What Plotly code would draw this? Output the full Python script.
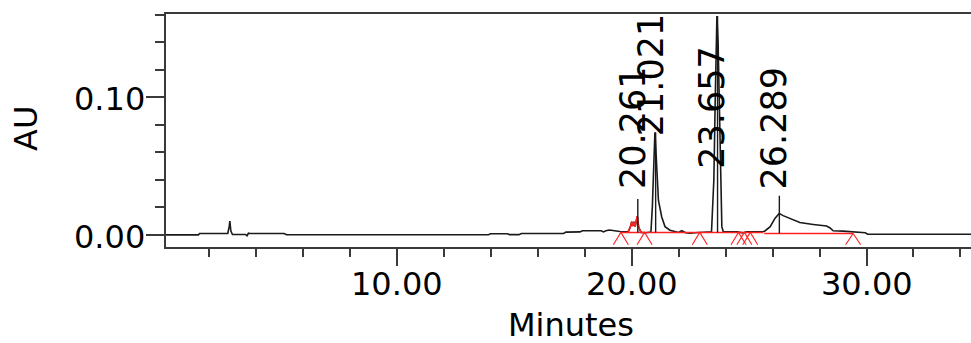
import plotly.graph_objects as go

# ---- chromatogram trace (minutes, AU) ----
time_min = [0.17, 1.55, 1.6, 2.8, 2.86, 2.89, 2.93, 3.0, 3.55, 3.62, 3.68, 3.75, 5.2, 5.3,
            13.9, 14.0, 14.7, 14.8, 15.2, 15.3, 17.1, 17.2, 17.8, 17.9, 18.7, 18.8, 18.9,
            19.05, 19.5, 19.85, 19.95, 20.0, 20.05, 20.1, 20.15, 20.2, 20.24, 20.3, 20.4,
            20.6, 20.82, 20.88, 20.94, 20.99, 21.03, 21.06, 21.1, 21.14, 21.28, 21.42,
            21.63, 22.0, 22.13, 22.3, 22.48, 22.7, 23.4, 23.46, 23.5, 23.56, 23.63, 23.68,
            23.74, 23.8, 23.84, 23.9, 24.5, 24.74, 24.9, 25.65, 25.9, 26.1, 26.28, 26.45,
            26.74, 27.16, 27.73, 28.3, 28.45, 28.58, 29.0, 29.43, 29.95, 30.05, 34.45]
au = [0.0000, 0.0000, 0.0010, 0.0010, 0.0060, 0.0100, 0.0030, 0.0003, 0.0003, -0.0006,
      0.0012, 0.0010, 0.0010, 0.0001, 0.0001, 0.0008, 0.0008, 0.0002, 0.0002, 0.0010,
      0.0010, 0.0020, 0.0022, 0.0030, 0.0030, 0.0022, 0.0030, 0.0035, 0.0025, 0.0022,
      0.0060, 0.0095, 0.0065, 0.0095, 0.0060, 0.0110, 0.0135, 0.0055, 0.0018, 0.0015,
      0.0020, 0.0200, 0.0550, 0.0745, 0.0620, 0.0540, 0.0350, 0.0250, 0.0130, 0.0060,
      0.0034, 0.0018, 0.0030, 0.0016, 0.0012, 0.0016, 0.0022, 0.0200, 0.0400, 0.1000,
      0.1590, 0.1400, 0.0900, 0.0300, 0.0060, 0.0024, 0.0022, 0.0015, 0.0022, 0.0025,
      0.0060, 0.0120, 0.0156, 0.0140, 0.0120, 0.0090, 0.0076, 0.0064, 0.0050, 0.0030,
      0.0027, 0.0020, 0.0015, 0.0005, 0.0005]

# integrated (red) part of the trace around the first small peak
red_segment_start = 19.85
red_segment_end = 20.4

# ---- peaks ----
peak_rt = [20.261, 21.021, 23.657, 26.289]
peak_labels = ["20.261", "21.021", "23.657", "26.289"]
peak_marker_top = [0.026, 0.0745, 0.159, 0.0285]
peak_marker_base = [0.0018, 0.0018, 0.0018, 0.0010]
label_bottom = [0.0318, 0.0700, 0.0463, 0.0318]

# ---- integration baselines and event marks ----
base_start = [19.54, 25.65]
base_end = [25.60, 29.43]
base_level = [0.0018, 0.0010]
event_marks = [19.54, 20.55, 22.9, 24.55, 24.8, 25.05, 29.43]
event_level = [0.0018, 0.0018, 0.0018, 0.0018, 0.0018, 0.0018, 0.0010]

x_ticks = [10, 20, 30]
x_tick_labels = ["10.00", "20.00", "30.00"]
y_ticks = [0.0, 0.10]
y_tick_labels = ["0.00", "0.10"]

FONT = "DejaVu Sans"
AXIS = "#3a3a3a"
W, H = 971, 343
ML, MR, MT, MB = 166, 0, 14, 96
PW, PH = W - ML - MR, H - MT - MB

fig = go.Figure()

fig.add_trace(go.Scatter(x=time_min, y=au, mode="lines",
                         line=dict(color="#1a1a1a", width=1.6), hoverinfo="skip"))

rx = [t for t in time_min if red_segment_start <= t <= red_segment_end]
ry = [v for t, v in zip(time_min, au) if red_segment_start <= t <= red_segment_end]
fig.add_trace(go.Scatter(x=rx, y=ry, mode="lines",
                         line=dict(color="#ff2020", width=1.5), hoverinfo="skip"))

# integration baselines
bx, by = [], []
for s, e, l in zip(base_start, base_end, base_level):
    bx += [s, e, None]
    by += [l, l, None]
fig.add_trace(go.Scatter(x=bx, y=by, mode="lines",
                         line=dict(color="#ff2020", width=1.5), hoverinfo="skip"))

# event marks (^)
ex, ey = [], []
half = 0.32
leg = -0.0072
for t, l in zip(event_marks, event_level):
    ex += [t - half, t, t + half, None]
    ey += [leg, l, leg, None]
fig.add_trace(go.Scatter(x=ex, y=ey, mode="lines",
                         line=dict(color="#ff2020", width=1.1), hoverinfo="skip"))

# peak apex markers
mx, my = [], []
for t, top, b in zip(peak_rt, peak_marker_top, peak_marker_base):
    mx += [t, t, None]
    my += [b, top, None]
fig.add_trace(go.Scatter(x=mx, y=my, mode="lines",
                         line=dict(color="#1a1a1a", width=1.4), hoverinfo="skip"))

for t, txt, yb in zip(peak_rt, peak_labels, label_bottom):
    fig.add_annotation(x=t, y=yb, text=txt, textangle=-90, showarrow=False,
                       xanchor="center", yanchor="bottom", xshift=-5,
                       font=dict(family=FONT, size=35, color="black"))

# tick labels
for v, txt in zip(x_ticks, x_tick_labels):
    fig.add_annotation(x=v, xref="x", yref="paper", y=(MT + PH - 284) / PH,
                       text=txt, showarrow=False, xanchor="center", yanchor="middle",
                       font=dict(family=FONT, size=32, color="black"))
for v, txt in zip(y_ticks, y_tick_labels):
    fig.add_annotation(y=v, yref="y", xref="paper", x=(147 - ML) / PW,
                       text=txt, showarrow=False, xanchor="right", yanchor="middle",
                       yshift=-2, font=dict(family=FONT, size=32, color="black"))

fig.add_annotation(xref="paper", yref="paper", x=(571 - ML) / PW, y=(MT + PH - 325) / PH,
                   text="Minutes", showarrow=False, xanchor="center", yanchor="middle",
                   font=dict(family=FONT, size=32, color="black"))
fig.add_annotation(xref="paper", yref="paper", x=(26 - ML) / PW, y=(MT + PH - 129) / PH,
                   text="AU", textangle=-90, showarrow=False, xanchor="center",
                   yanchor="middle", font=dict(family=FONT, size=32, color="black"))

fig.update_layout(
    width=W, height=H,
    margin=dict(l=ML, r=MR, t=MT, b=MB, autoexpand=False),
    paper_bgcolor="white", plot_bgcolor="white",
    showlegend=False,
)
fig.update_xaxes(range=[0.17, 34.45], tickvals=x_ticks, automargin=False,
                 showticklabels=False,
                 ticks="outside", ticklen=17, tickwidth=2, tickcolor=AXIS,
                 showline=True, linecolor=AXIS, linewidth=2, mirror=True,
                 showgrid=False, zeroline=False,
                 minor=dict(dtick=2, tick0=0, ticks="outside", ticklen=8,
                            tickwidth=1.5, tickcolor=AXIS, showgrid=False))
fig.update_yaxes(range=[-0.0088, 0.1605], tickvals=y_ticks, automargin=False,
                 showticklabels=False,
                 ticks="outside", ticklen=18, tickwidth=2, tickcolor=AXIS,
                 showline=True, linecolor=AXIS, linewidth=2, mirror=False,
                 showgrid=False, zeroline=False,
                 minor=dict(dtick=0.02, tick0=0, ticks="outside", ticklen=9,
                            tickwidth=1.5, tickcolor=AXIS, showgrid=False))

fig.write_html("out.html", config={"displayModeBar": False},
               post_script="document.body.style.margin='0';document.body.style.overflow='hidden';")
